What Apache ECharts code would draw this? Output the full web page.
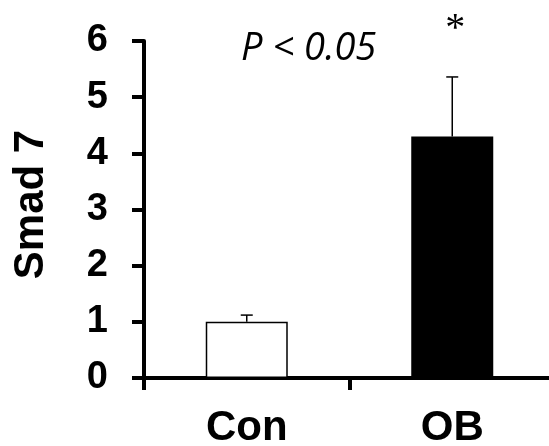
<!DOCTYPE html>
<html>
<head>
<meta charset="utf-8">
<script src="https://cdn.jsdelivr.net/npm/echarts@6/dist/echarts.min.js"></script>
<style>
  html, body { margin: 0; padding: 0; background: #fff; }
  #main { width: 549px; height: 446px; }
</style>
</head>
<body>
<div id="main"></div>
<script>
// data
var categories = ['Con', 'OB'];
var means = [1.0, 4.3];
var errors = [0.12, 1.06];
var marks = ['', '*'];
var yTicks = [0, 1, 2, 3, 4, 5, 6];

var chart = echarts.init(document.getElementById('main'));

var option = {
  backgroundColor: '#fff',
  animation: false,
  grid: { left: 144, top: 41, bottom: 68, right: -6, outerBoundsMode: 'none', containLabel: false },
  xAxis: {
    type: 'category',
    data: categories,
    axisLine: { lineStyle: { color: '#000', width: 4 } },
    axisTick: { show: true, length: 12, lineStyle: { color: '#000', width: 4 } },
    axisLabel: {
      color: '#000', fontFamily: 'Liberation Sans', fontWeight: 'bold',
      fontSize: 42, margin: 29
    }
  },
  yAxis: {
    type: 'value',
    min: yTicks[0],
    max: yTicks[yTicks.length - 1],
    interval: 1,
    name: 'Smad 7',
    nameLocation: 'middle',
    nameGap: 92,
    nameTextStyle: {
      color: '#000', fontFamily: 'Liberation Sans', fontWeight: 'bold', fontSize: 42,
      padding: [0, 0, 0, 10]
    },
    splitLine: { show: false },
    axisLine: { show: true, lineStyle: { color: '#000', width: 4 } },
    axisTick: { show: true, length: 12, lineStyle: { color: '#000', width: 4 } },
    axisLabel: {
      color: '#000', fontFamily: 'Liberation Sans', fontWeight: 'bold',
      fontSize: 38, margin: 36
    }
  },
  series: [
    {
      type: 'bar',
      data: means,
      barWidth: 82,
      itemStyle: {
        color: function (p) { return p.dataIndex === 0 ? '#fff' : '#000'; },
        borderColor: '#000',
        borderWidth: 1.5
      },
      z: 2
    },
    {
      type: 'custom',
      data: means.map(function (m, i) { return [i, m, m + errors[i]]; }),
      z: 3,
      renderItem: function (params, api) {
        var i = api.value(0);
        var lo = api.coord([i, api.value(1)]);
        var hi = api.coord([i, api.value(2)]);
        var children = [
          { type: 'line', shape: { x1: lo[0], y1: lo[1], x2: hi[0], y2: hi[1] },
            style: { stroke: '#000', lineWidth: 1.5 } },
          { type: 'line', shape: { x1: hi[0] - 6, y1: hi[1], x2: hi[0] + 6, y2: hi[1] },
            style: { stroke: '#000', lineWidth: 1.5 } }
        ];
        if (marks[i]) {
          children.push({
            type: 'text',
            style: {
              text: marks[i], x: hi[0] + 3, y: hi[1] - 47,
              align: 'center', verticalAlign: 'middle',
              font: '40px "Liberation Serif"', fill: '#000'
            }
          });
        }
        return { type: 'group', children: children };
      }
    }
  ],
  graphic: [
    {
      type: 'text',
      left: 241, top: 30,
      style: {
        text: 'P < 0.05',
        font: 'italic 38px "Open Sans"',
        fill: '#000'
      }
    }
  ]
};

chart.setOption(option);
</script>
</body>
</html>
